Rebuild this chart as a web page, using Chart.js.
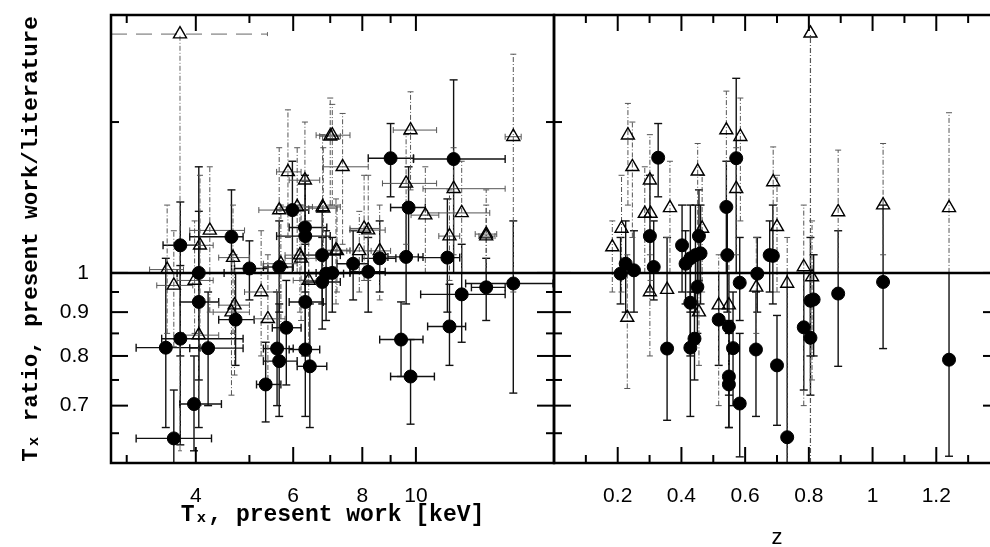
<!DOCTYPE html>
<html>
<head>
<meta charset="utf-8">
<script src="https://cdn.jsdelivr.net/npm/chart.js@4.4.0/dist/chart.umd.min.js"></script>
<style>
html, body { margin:0; padding:0; background:#fff; width:990px; height:547px; overflow:hidden; }
#left { position:absolute; left:0; top:0; }
#right { position:absolute; left:552px; top:0; }
</style>
</head>
<body>
<canvas id="left" width="556" height="547"></canvas>
<canvas id="right" width="450" height="547"></canvas>
<script>
// ---- left panel: ratio vs T (keV) ----
// filled circles
var tCircT   = [3.75,4.64,4.05,4.05,3.75,3.53,4.21,3.97,3.65,4.72, 5.00,5.83,5.61,5.66,5.35,6.31,6.43,6.31,6.31,6.77, 6.77,5.98,6.30,9.00,11.7,9.70,9.60,11.4,15.0,13.4, 12.1,11.5,9.40,9.78,7.70,8.20,7.06,8.60,5.66,6.88];
var tCircR   = [1.077,1.102,1.000,0.925,0.838,0.818,0.817,0.703,0.641,0.882, 1.012,0.863,0.816,0.789,0.741,0.814,0.778,0.925,1.104,1.049, 0.976,1.184,1.130,1.361,1.358,1.192,1.044,1.042,0.972,0.962, 0.944,0.866,0.836,0.757,1.025,1.003,1.000,1.040,1.016,0.998];
var tCircTlo = [3.49,3.90,3.70,3.75,3.47,3.12,3.90,3.74,3.12,4.40, 4.70,5.50,5.30,5.30,5.15,5.90,6.10,5.90,5.60,6.30, 6.30,5.60,5.90,8.20,9.90,9.00,8.90,10.1,12.3,12.6, 10.2,10.5,8.60,9.00,7.20,7.60,6.60,8.00,5.30,6.40];
var tCircThi = [4.07,4.87,4.50,4.40,4.87,4.07,4.87,4.45,4.27,5.10, 5.40,6.20,6.00,6.10,5.70,6.70,6.90,6.80,7.00,7.30, 7.30,6.40,6.90,9.90,14.5,10.4,10.3,12.0,17.7,14.5, 14.5,12.3,10.3,10.8,8.20,8.80,7.60,9.20,6.00,7.40];
var tCircRlo = [0.80,1.00,0.75,0.66,0.63,0.66,0.70,0.62,0.60,0.78, 0.93,0.74,0.70,0.68,0.67,0.68,0.66,0.80,0.95,0.92, 0.86,1.00,0.98,1.227,1.00,1.05,0.92,0.90,0.724,0.88, 0.83,0.78,0.757,0.666,0.93,0.90,0.90,0.95,0.90,0.88];
var tCircRhi = [1.21,1.25,1.33,1.18,1.02,1.04,0.95,0.80,0.73,1.00, 1.09,0.98,0.95,0.92,0.83,0.97,0.92,1.08,1.28,1.18, 1.10,1.35,1.30,1.494,1.68,1.33,1.20,1.22,1.15,1.04, 1.08,0.97,0.925,0.836,1.12,1.10,1.10,1.15,1.15,1.12];
// open triangles
var tTriT   = [3.55,3.65,4.07,3.98,4.67,4.70,4.64,4.05,5.25,5.40, 5.70,6.20,6.40,5.87,6.30,6.78,7.00,5.66,4.24,6.10, 7.06,7.37,9.78,9.60,10.4,11.7,12.1,13.4,15.0,8.20, 6.80,11.5,13.4,7.20,7.90,8.60,8.06,7.17,6.17];
var tTriR   = [1.009,0.967,1.077,0.980,1.042,0.917,0.900,0.846,0.950,0.884, 1.025,1.040,0.980,1.312,1.283,1.194,1.444,1.184,1.121,1.194, 1.448,1.330,1.468,1.272,1.168,1.254,1.175,1.110,1.442,1.122, 1.190,1.104,1.104,1.061,1.061,1.061,1.127,1.063,1.049];
var tTriTlo = [3.30,3.40,3.80,3.70,4.40,4.40,4.30,3.80,4.90,5.10, 5.30,5.80,6.00,5.60,5.90,6.30,6.70,5.20,3.90,5.70, 6.60,6.80,9.10,8.70,9.80,10.3,10.5,12.8,14.5,7.60, 6.40,11.0,13.0,6.80,7.50,8.20,7.60,6.80,5.80];
var tTriThi = [3.80,3.95,4.30,4.30,5.00,5.00,5.00,4.40,5.60,5.80, 6.10,6.60,6.90,6.20,6.70,7.30,7.30,6.00,4.90,6.50, 7.60,8.20,10.9,10.9,11.0,14.5,13.6,14.0,15.5,8.80, 7.20,12.0,13.9,7.60,8.30,9.00,8.60,7.60,6.60];
var tTriRlo = [0.85,0.82,0.85,0.85,0.85,0.76,0.72,0.70,0.80,0.75, 0.86,0.88,0.82,1.10,1.05,0.98,1.20,0.95,0.90,1.00, 1.20,1.08,1.25,1.08,1.00,1.05,1.00,1.00,0.95,0.98, 1.00,0.98,1.00,0.95,0.95,0.93,0.98,0.92,0.90];
var tTriRhi = [1.20,1.12,1.30,1.15,1.20,1.05,1.05,1.00,1.12,1.05, 1.20,1.20,1.15,1.55,1.50,1.45,1.60,1.40,1.33,1.40, 1.573,1.535,1.627,1.45,1.33,1.40,1.35,1.25,1.80,1.30, 1.40,1.25,1.20,1.20,1.18,1.20,1.30,1.22,1.20];
// the off-scale triangle at the top
var tOutT = [3.745], tOutR = [1.90], tOutTlo = [2.81], tOutThi = [5.39], tOutRlo = [0.62], tOutRhi = [1.90];

// ---- right panel: ratio vs z ----
var zCircZ   = [0.327,0.572,0.541,0.209,0.225,0.251,0.301,0.313,0.355,0.402, 0.413,0.428,0.444,0.460,0.455,0.450,0.428,0.441,0.428,0.517, 0.549,0.562,0.549,0.549,0.583,0.583,0.544,0.638,0.634,0.677, 0.687,0.700,0.732,0.784,0.805,0.805,0.815,0.892,1.033,1.240];
var zCircR   = [1.363,1.361,1.194,0.998,1.025,1.007,1.104,1.016,0.816,1.077, 1.025,1.040,1.049,1.054,1.104,0.963,0.923,0.838,0.818,0.882, 0.865,0.817,0.757,0.741,0.704,0.974,1.049,0.998,0.814,1.049, 1.047,0.780,0.643,0.864,0.840,0.928,0.931,0.946,0.976,0.792];
var zCircRlo = [1.227,1.00,1.00,0.92,0.90,0.90,0.95,0.93,0.673,0.95, 0.92,0.90,0.90,0.92,0.98,0.85,0.80,0.75,0.68,0.78, 0.72,0.70,0.66,0.66,0.61,0.88,0.90,0.90,0.68,0.95, 0.92,0.664,0.60,0.73,0.72,0.80,0.80,0.778,0.816,0.611];
var zCircRhi = [1.494,1.687,1.35,1.10,1.15,1.12,1.30,1.15,1.10,1.20, 1.12,1.20,1.20,1.20,1.25,1.05,1.05,0.95,0.95,1.00, 1.00,0.95,0.88,0.85,0.85,1.10,1.20,1.10,0.95,1.15, 1.20,0.892,1.00,1.00,1.00,1.10,1.05,1.12,1.20,1.00];
var zTriZ   = [0.232,0.246,0.301,0.364,0.451,0.541,0.585,0.572,0.212,0.285, 0.303,0.465,0.688,0.700,0.892,1.033,1.240,0.183,0.230,0.301, 0.355,0.455,0.517,0.549,0.635,0.732,0.784,0.810];
var zTriR   = [1.448,1.330,1.283,1.191,1.314,1.468,1.442,1.254,1.127,1.173, 1.173,1.127,1.277,1.132,1.178,1.200,1.191,1.072,0.887,0.950, 0.956,0.900,0.917,0.917,0.962,0.972,1.016,0.989];
var zTriRlo = [1.20,1.10,1.05,1.00,1.05,1.20,1.15,1.05,0.95,1.00, 0.98,0.95,1.05,0.95,1.00,1.05,1.00,0.95,0.733,0.80, 0.82,0.78,0.70,0.75,0.85,0.60,0.70,0.75];
var zTriRhi = [1.577,1.50,1.45,1.35,1.416,1.63,1.60,1.40,1.30,1.33, 1.30,1.30,1.403,1.30,1.391,1.416,1.538,1.15,1.05,1.10, 1.10,1.05,1.05,1.05,1.10,1.10,1.20,1.15];
var zOutZ = [0.805], zOutR = [1.904], zOutRlo = [0.60], zOutRhi = [1.904];

// ---- ticks ----
var tTicks  = [3, 4, 5, 6, 7, 8, 9, 10];
var tLabels = ['', '4', '', '6', '', '8', '', '10'];
var zTicks  = [0.1, 0.2, 0.3, 0.4, 0.5, 0.6, 0.7, 0.8, 0.9, 1.0, 1.1, 1.2, 1.3];
var zLabels = ['', '0.2', '', '0.4', '', '0.6', '', '0.8', '', '1', '', '1.2', ''];
var rTicks  = [0.65, 0.7, 0.75, 0.8, 0.85, 0.9, 0.95, 1, 1.5];
var rLabels = ['', '0.7', '', '0.8', '', '0.9', '', '1', ''];

function pts(xs, ys) {
    return xs.map(function(v, i) { return {x: v, y: ys[i]}; });
}

function line(ctx, x1, y1, x2, y2) {
    ctx.beginPath(); ctx.moveTo(x1, y1); ctx.lineTo(x2, y2); ctx.stroke();
}

// chart.js pads the area for edge labels; the frame here must sit at fixed pixels
function noPad(s) {
    s.paddingLeft = 0; s.paddingRight = 0; s.paddingTop = 0; s.paddingBottom = 0;
}

var framePlugin = {
    id: 'frame',
    beforeDatasetsDraw: function(chart) {
        var ctx = chart.ctx, a = chart.chartArea, sx = chart.scales.x, sy = chart.scales.y;
        ctx.save();
        ctx.beginPath(); ctx.rect(a.left, a.top, a.right - a.left, a.bottom - a.top); ctx.clip();
        chart.data.datasets.forEach(function(ds) {
            var b = ds.bars;
            if (!b) return;
            ctx.strokeStyle = b.color;
            ctx.lineWidth = b.width;
            ds.data.forEach(function(p, i) {
                var px = sx.getPixelForValue(p.x), py = sy.getPixelForValue(p.y);
                if (b.ylo) {
                    var y1 = sy.getPixelForValue(b.ylo[i]), y2 = sy.getPixelForValue(b.yhi[i]);
                    ctx.setLineDash(b.vDash);
                    line(ctx, px, y1, px, y2);
                    ctx.setLineDash([]);
                    line(ctx, px - b.cap, y1, px + b.cap, y1);
                    if (b.yhi[i] > p.y) line(ctx, px - b.cap, y2, px + b.cap, y2);
                }
                if (b.xlo) {
                    var x1 = sx.getPixelForValue(b.xlo[i]), x2 = sx.getPixelForValue(b.xhi[i]);
                    ctx.setLineDash(b.hDash);
                    line(ctx, x1, py, x2, py);
                    ctx.setLineDash([]);
                    line(ctx, x1, py - b.cap, x1, py + b.cap);
                    line(ctx, x2, py - b.cap, x2, py + b.cap);
                }
            });
        });
        // reference line at ratio 1
        ctx.setLineDash([]);
        ctx.strokeStyle = '#000';
        ctx.lineWidth = 2.5;
        var y1 = sy.getPixelForValue(1);
        line(ctx, a.left, y1, a.right, y1);
        ctx.restore();
    },
    afterDraw: function(chart, args, opts) {
        var ctx = chart.ctx, a = chart.chartArea, sx = chart.scales.x, sy = chart.scales.y;
        ctx.save();
        ctx.strokeStyle = '#000';
        ctx.lineWidth = 2;
        opts.xt.forEach(function(v, i) {
            var px = sx.getPixelForValue(v);
            var len = opts.xl[i] ? 16 : 8;
            line(ctx, px, a.bottom, px, a.bottom - len);
            line(ctx, px, a.top, px, a.top + len);
        });
        rTicks.forEach(function(v, i) {
            var py = sy.getPixelForValue(v);
            var len = rLabels[i] ? 17 : 8;
            line(ctx, a.left, py, a.left + len, py);
            line(ctx, a.right, py, a.right - len, py);
        });
        ctx.lineWidth = 2.5;
        ctx.strokeRect(a.left, a.top, a.right - a.left, a.bottom - a.top);
        ctx.restore();
    }
};

var circStyle = {pointStyle: 'circle', pointRadius: 6.5, backgroundColor: '#000', borderColor: '#000', borderWidth: 1};
var triStyle  = {pointStyle: 'triangle', pointRadius: 7.5, backgroundColor: 'rgba(0,0,0,0)', borderColor: '#000', borderWidth: 1.4};

function ds(data, style, bars) {
    return Object.assign({data: data, showLine: false, bars: bars, pointHoverRadius: 0}, style);
}

var tickFont = {family: 'Liberation Sans', size: 21};
var titleFont = {family: 'Liberation Mono', size: 23, weight: 'bold'};

new Chart(document.getElementById('left'), {
    type: 'scatter',
    data: {
        datasets: [
            ds(pts(tCircT, tCircR), circStyle, {xlo: tCircTlo, xhi: tCircThi, ylo: tCircRlo, yhi: tCircRhi,
                color: '#111', width: 1.4, vDash: [], hDash: [], cap: 4}),
            ds(pts(tTriT, tTriR), triStyle, {xlo: tTriTlo, xhi: tTriThi, ylo: tTriRlo, yhi: tTriRhi,
                color: '#555', width: 1, vDash: [5, 2, 1, 2], hDash: [], cap: 3}),
            ds(pts(tOutT, tOutR), triStyle, {xlo: tOutTlo, xhi: tOutThi, ylo: tOutRlo, yhi: tOutRhi,
                color: '#666', width: 1, vDash: [5, 2, 1, 2], hDash: [16, 9], cap: 2})
        ]
    },
    options: {
        responsive: false, animation: false, events: [],
        layout: {autoPadding: false, padding: {top: 15, right: 2, left: 0, bottom: 0}},
        plugins: {legend: {display: false}, tooltip: {enabled: false},
            frame: {xt: tTicks, xl: tLabels}},
        scales: {
            x: {
                type: 'logarithmic', min: 2.81, max: 17.77,
                afterBuildTicks: function(s) { s.ticks = tTicks.map(function(v) { return {value: v}; }); },
                afterFit: function(s) { s.height = 84; noPad(s); },
                grid: {display: false, drawTicks: false}, border: {display: false},
                ticks: {autoSkip: false, maxRotation: 0, padding: 21, color: '#000', font: tickFont,
                    callback: function(v, i) { return tLabels[i]; }},
                title: {display: true, text: 'Tₓ, present work [keV]', color: '#000', font: titleFont,
                    padding: {top: 0, bottom: 18}}
            },
            y: {
                type: 'logarithmic', min: 0.6, max: 2.0,
                afterBuildTicks: function(s) { s.ticks = rTicks.map(function(v) { return {value: v}; }); },
                afterFit: function(s) { s.width = 111; noPad(s); },
                grid: {display: false, drawTicks: false}, border: {display: false},
                ticks: {autoSkip: false, padding: 22, color: '#000', font: tickFont,
                    callback: function(v, i) { return rLabels[i]; }},
                title: {display: true, text: 'Tₓ ratio, present work/literature', color: '#000',
                    font: {family: 'Liberation Mono', size: 22.5, weight: 'bold'}, padding: {top: 18, bottom: 0}}
            }
        }
    },
    plugins: [framePlugin]
});

new Chart(document.getElementById('right'), {
    type: 'scatter',
    data: {
        datasets: [
            ds(pts(zCircZ, zCircR), circStyle, {ylo: zCircRlo, yhi: zCircRhi,
                color: '#111', width: 1.4, vDash: [], hDash: [], cap: 4}),
            ds(pts(zTriZ, zTriR), triStyle, {ylo: zTriRlo, yhi: zTriRhi,
                color: '#555', width: 1, vDash: [5, 2, 1, 2], hDash: [], cap: 3}),
            ds(pts(zOutZ, zOutR), triStyle, {ylo: zOutRlo, yhi: zOutRhi,
                color: '#555', width: 1.2, vDash: [5, 2, 1, 2], hDash: [], cap: 2})
        ]
    },
    options: {
        responsive: false, animation: false, events: [],
        layout: {autoPadding: false, padding: {top: 15, right: 2, left: 2, bottom: 0}},
        plugins: {legend: {display: false}, tooltip: {enabled: false},
            frame: {xt: zTicks, xl: zLabels}},
        scales: {
            x: {
                type: 'linear', min: 0, max: 1.4,
                afterBuildTicks: function(s) { s.ticks = zTicks.map(function(v) { return {value: v}; }); },
                afterFit: function(s) { s.height = 84; noPad(s); },
                grid: {display: false, drawTicks: false}, border: {display: false},
                ticks: {autoSkip: false, maxRotation: 0, padding: 21, color: '#000', font: tickFont,
                    callback: function(v, i) { return zLabels[i]; }},
                title: {display: true, text: 'z', color: '#000',
                    font: {family: 'Liberation Sans', size: 22, lineHeight: 0.8},
                    padding: {top: 0, bottom: 0}}
            },
            y: {
                type: 'logarithmic', min: 0.6, max: 2.0, display: false
            }
        }
    },
    plugins: [framePlugin]
});
</script>
</body>
</html>
